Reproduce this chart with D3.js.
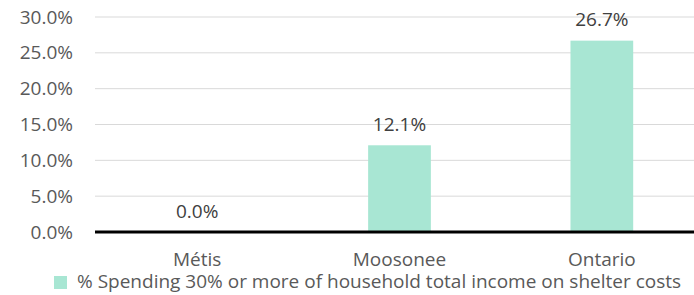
<!DOCTYPE html>
<html><head><meta charset="utf-8">
<script src="https://cdn.jsdelivr.net/npm/d3@7"></script>
<style>body{margin:0;background:#fff}svg{display:block}text{font-family:"Open Sans","Liberation Sans",sans-serif}</style>
</head><body>
<svg id="c" width="694" height="295"></svg>
<script>
const categories = ["Métis", "Moosonee", "Ontario"];
const values = [0.0, 12.1, 26.7];
const yTicks = [0, 5, 10, 15, 20, 25, 30];
const legendLabel = "% Spending 30% or more of household total income on shelter costs";

const svg = d3.select("#c");
const W = 694, H = 295;
const x = d3.scaleBand().domain(categories).range([96, 703]).paddingInner(0.69).paddingOuter(0.345);
const y = d3.scaleLinear().domain([0, 30]).range([232, 17]);
const fs = 19;

// gridlines
svg.append("g").selectAll("line").data(yTicks.filter(d => d > 0)).join("line")
  .attr("x1", 95).attr("x2", W).attr("y1", d => y(d)).attr("y2", d => y(d))
  .attr("stroke", "#d9d9d9").attr("stroke-width", 1);

// y axis labels
const yAxis = d3.axisLeft(y).tickValues(yTicks).tickSize(0).tickPadding(0).tickFormat(d => d.toFixed(1) + "%");
const ya = svg.append("g").attr("transform", "translate(73,0)").call(yAxis);
ya.select(".domain").remove();
ya.selectAll("text").attr("font-size", fs).attr("fill", "#595959").attr("font-family", null);

// bars
svg.append("g").selectAll("rect").data(values).join("rect")
  .attr("x", (d, i) => x(categories[i])).attr("width", x.bandwidth())
  .attr("y", d => y(d)).attr("height", d => y(0) - y(d))
  .attr("fill", "#a8e6d3");

// value labels
svg.append("g").selectAll("text").data(values).join("text")
  .attr("x", (d, i) => x(categories[i]) + x.bandwidth() / 2)
  .attr("y", d => y(d) - 14.5)
  .attr("text-anchor", "middle").attr("font-size", fs).attr("fill", "#404040")
  .text(d => d.toFixed(1) + "%");

// baseline
svg.append("line").attr("x1", 95).attr("x2", W).attr("y1", y(0)).attr("y2", y(0))
  .attr("stroke", "#000").attr("stroke-width", 3);

// x axis labels
const xAxis = d3.axisBottom(x).tickSize(0).tickPadding(0);
const xa = svg.append("g").attr("transform", "translate(0,265.5)").call(xAxis);
xa.select(".domain").remove();
xa.selectAll("text").attr("font-size", fs).attr("fill", "#595959").attr("font-family", null).attr("dy", 0);

// legend
svg.append("rect").attr("x", 54).attr("y", 276).attr("width", 13).attr("height", 13).attr("fill", "#a8e6d3");
svg.append("text").attr("x", 77).attr("y", 288).attr("font-size", fs).attr("fill", "#595959").text(legendLabel);
</script>
</body></html>
